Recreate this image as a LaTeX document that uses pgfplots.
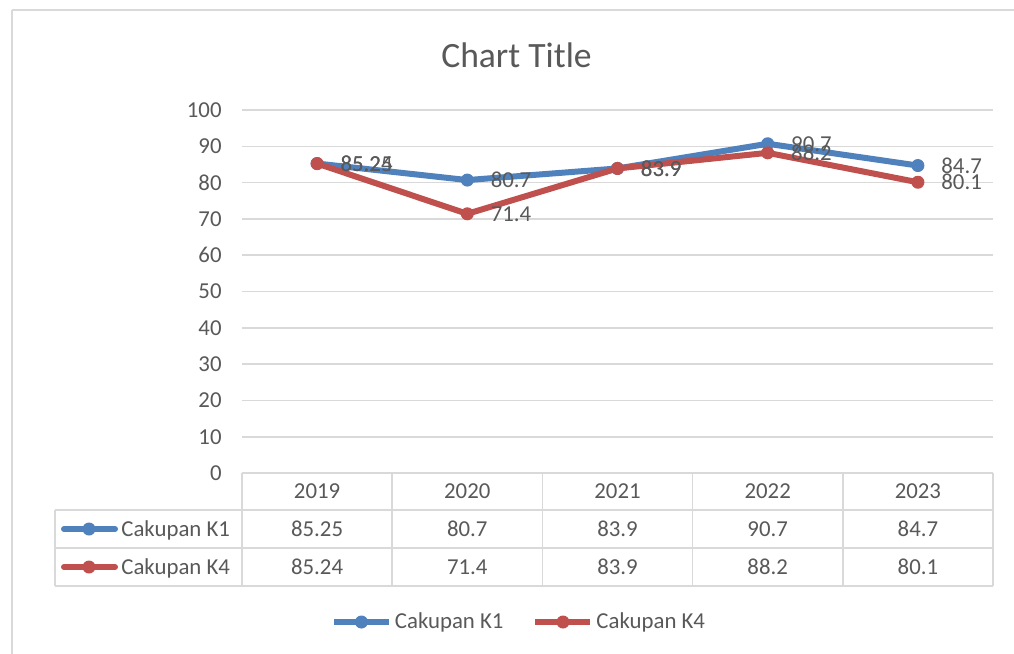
\documentclass[border=0pt]{standalone}
\usepackage{fontspec}
\setmainfont{Carlito}
\usepackage{pgfplots}
\usepackage{pgfplotstable}
\pgfplotsset{compat=1.18}
\definecolor{k1blue}{HTML}{4F81BD}
\definecolor{k4red}{HTML}{C0504D}
\definecolor{txt}{HTML}{595959}
\definecolor{gridc}{HTML}{D9D9D9}
\newcommand{\sz}{\fontsize{11.4}{13.7}\selectfont}

\pgfplotstableread{
x label k1 k4
0 2019 85.25 85.24
1 2020 80.7 71.4
2 2021 83.9 83.9
3 2022 90.7 88.2
4 2023 84.7 80.1
}\data

\begin{document}
\begin{tikzpicture}
\begin{scope}[x=0.5pt,y=-0.5pt]
\fill[white] (0,0) rectangle (1014,654);
\draw[gridc, line width=1pt] (1014,10) -- (12,10);
\draw[gridc, line width=1pt] (12,10) -- (12,654);
\node[font=\fontsize{17.8}{21}\selectfont, text=txt] at (516.5,55) {Chart Title};
% data table grid
\begin{scope}[draw=gridc, line width=0.8pt]
\draw (55,510) -- (993,510);
\draw (55,548) -- (993,548);
\draw (55,586) -- (993,586);
\draw (55,510) -- (55,586);
\foreach \xx in {242,392.2,542.4,692.6,842.8,993} \draw (\xx,473) -- (\xx,586);
\end{scope}
% header and values
\foreach \xx/\yr/\a/\b in {317.1/2019/85.25/85.24, 467.3/2020/80.7/71.4, 617.5/2021/83.9/83.9, 767.7/2022/90.7/88.2, 917.9/2023/84.7/80.1}{
  \node[font=\sz, text=txt, anchor=base] at (\xx,498) {\yr};
  \node[font=\sz, text=txt, anchor=base] at (\xx,536) {\a};
  \node[font=\sz, text=txt, anchor=base] at (\xx,574) {\b};
}
% row keys
\draw[k1blue, line width=3pt, line cap=round] (64,529) -- (115,529);
\fill[k1blue] (89,529) circle (6.5);
\node[font=\sz, text=txt, anchor=base west, inner sep=0pt] at (121,536) {Cakupan K1};
\draw[k4red, line width=3pt, line cap=round] (64,567) -- (115,567);
\fill[k4red] (89,567) circle (6.5);
\node[font=\sz, text=txt, anchor=base west, inner sep=0pt] at (121,574) {Cakupan K4};
\end{scope}

\begin{axis}[
  at={(121pt,-236.5pt)}, anchor=south west,
  scale only axis, width=375.5pt, height=181.5pt,
  xmin=-0.5, xmax=4.5, ymin=0, ymax=100,
  ytick={0,10,...,100}, xtick=\empty,
  ymajorgrids, grid style={draw=gridc, line width=0.8pt},
  axis line style={draw=none}, major tick length=0pt,
  clip=false,
  /pgf/number format/assume math mode=true,
  yticklabel style={font=\sz, text=txt, inner sep=0pt, xshift=-10pt},
  legend style={at={(0.3695,-0.4105)}, anchor=center, draw=none, fill=none,
    legend columns=2, font=\sz, text=txt, nodes={inner sep=1.5pt},
    /tikz/every even column/.append style={column sep=13pt}},
  legend image code/.code={\draw[mark repeat=2,mark phase=2,#1] plot coordinates {(0pt,0pt) (13.75pt,0pt) (27.5pt,0pt)};},
  nodes near coords, point meta=explicit symbolic,
  nodes near coords align={horizontal},
  every node near coord/.append style={font=\sz, text=txt, anchor=west, inner sep=0pt, xshift=11.5pt},
]
\addplot[k1blue, line width=3pt, line join=round, mark=*, mark size=3pt, mark options={solid, line width=0.5pt}]
  table[x=x, y=k1, meta=k1]{\data};
\addlegendentry{Cakupan K1}
\addplot[k4red, line width=3pt, line join=round, mark=*, mark size=3pt, mark options={solid, line width=0.5pt}]
  table[x=x, y=k4, meta=k4]{\data};
\addlegendentry{Cakupan K4}
\end{axis}
\pgfresetboundingbox
\useasboundingbox (0,0) rectangle (507pt,-327pt);
\end{tikzpicture}
\end{document}
